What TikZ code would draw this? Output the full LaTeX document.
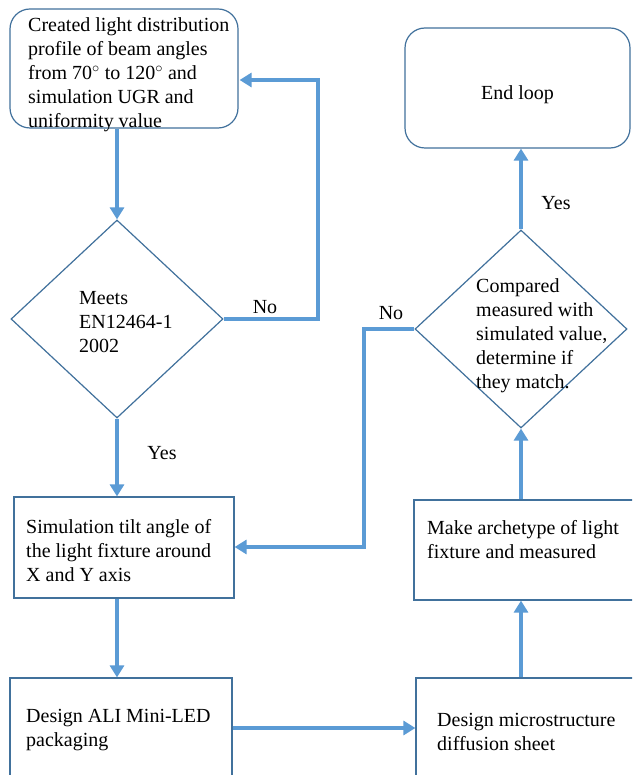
\documentclass[tikz,border=0pt]{standalone}
\usepackage{fontspec}
\setmainfont{Liberation Serif}
\usetikzlibrary{shapes.geometric,arrows.meta}
\definecolor{boxline}{HTML}{41719C}
\definecolor{flow}{HTML}{5B9BD5}
\tikzset{
  stepbox/.style={draw=boxline,line width=1.2pt,rectangle,inner sep=0pt},
  roundbox/.style={stepbox,rounded corners=20pt},
  decision/.style={draw=boxline,line width=1.2pt,diamond,inner sep=0pt},
  txt/.style={inner sep=0pt,align=left,anchor=base west,font=\fontsize{20}{24}\selectfont},
  lbl/.style={inner sep=0pt,anchor=base,font=\fontsize{20}{24}\selectfont},
  flowarrow/.style={draw=flow,line width=4.5pt,-{Triangle[width=14pt,length=12pt]}}
}
\begin{document}
\begin{tikzpicture}[x=1pt,y=-1pt]
\useasboundingbox (0,0) rectangle (632,775);
\clip (0,0) rectangle (632,775);
\fill[white] (0,0) rectangle (632,775);
% shapes
\node[roundbox,minimum width=228pt,minimum height=119pt] (b1) at (124,68.5) {};
\node[decision,minimum width=212pt,minimum height=198pt] (d1) at (117,319) {};
\node[stepbox,minimum width=220pt,minimum height=101pt] (b3) at (124,547.5) {};
\node[stepbox,minimum width=222pt,minimum height=140pt] (b4) at (121,748) {};
\node[stepbox,minimum width=234pt,minimum height=140pt] (b5) at (533,748) {};
\node[stepbox,minimum width=236pt,minimum height=100pt] (b6) at (532,550) {};
\node[decision,minimum width=212pt,minimum height=198pt] (d2) at (521,329) {};
\node[roundbox,minimum width=225pt,minimum height=120pt] (e) at (517.5,88) {};
% texts (anchored at the baseline of their last line)
\node[txt] (t1) at (28,128) {Created light distribution\\profile of beam angles\\from 70$^{\circ}$ to 120$^{\circ}$ and\\simulation UGR and\\uniformity value};
\node[txt] (t2) at (79,352) {Meets\\EN12464-1\\2002};
\node[txt] (t3) at (26,581) {Simulation tilt angle of\\the light fixture around\\X and Y axis};
\node[txt] (t4) at (26,746) {Design ALI Mini-LED\\packaging};
\node[txt] (t5) at (437,750) {Design microstructure\\diffusion sheet};
\node[txt] (t6) at (427,558) {Make archetype of light\\fixture and measured};
\node[txt] (t7) at (476,388) {Compared\\measured with\\simulated value,\\determine if\\they match.};
\node[lbl] (t8) at (e.center) [yshift=-12pt] {End loop};
% labels
\node[lbl] (no1) at (265,313) {No};
\node[lbl] (yes1) at (162,459) {Yes};
\node[lbl] (no2) at (391,319) {No};
\node[lbl] (yes2) at (556,210) {Yes};
% connectors
\coordinate (c1) at (318,80);
\coordinate (c2) at (364,547);
\coordinate (h) at (0,728);
\draw[flowarrow] (d1.north |- b1.south) -- (d1.north);
\draw[flowarrow] (d1.east) -| (c1) -- ([xshift=1pt]b1.east |- c1);
\draw[flowarrow] (d1.south) -- (d1.south |- b3.north);
\draw[flowarrow] (d2.west) -| (c2) -- (b3.east |- c2);
\draw[flowarrow] (d1.south |- b3.south) -- (d1.south |- b4.north);
\draw[flowarrow] (b4.east |- h) -- (b5.west |- h);
\draw[flowarrow] (d2.south |- b5.north) -- (d2.south |- b6.south);
\draw[flowarrow] (d2.south |- b6.north) -- (d2.south);
\draw[flowarrow] (d2.north) -- (d2.north |- e.south);
\end{tikzpicture}
\end{document}
